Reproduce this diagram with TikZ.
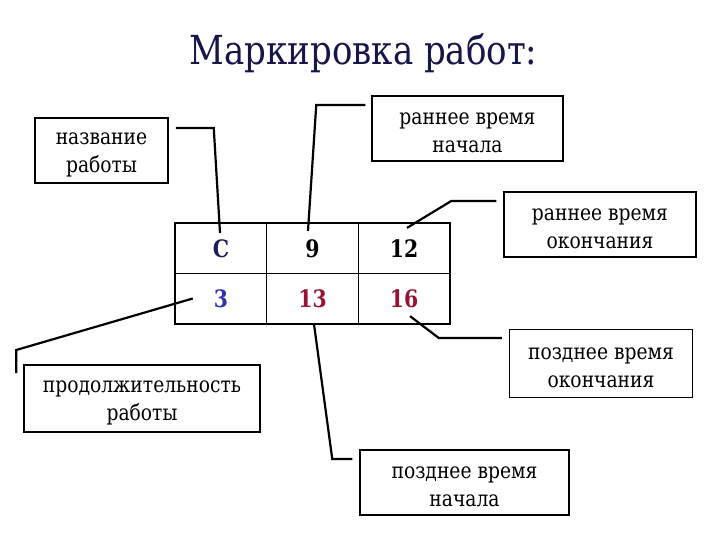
\documentclass[tikz,border=0pt]{standalone}
\usepackage{fontspec}
\setmainfont{DejaVu Serif}[FakeStretch=0.85]
\usetikzlibrary{positioning}

\definecolor{titlecol}{RGB}{22,22,72}
\definecolor{namecol}{RGB}{28,28,90}
\definecolor{durcol}{RGB}{50,50,170}
\definecolor{latecol}{RGB}{150,20,50}

\newcommand{\lift}{\rule{0pt}{21pt}}

\begin{document}
\begin{tikzpicture}[x=1pt, y=-1pt,
    lbl/.style={draw, rectangle, fill=white, line width=1.5pt, inner sep=0pt,
        align=center, font=\fontsize{22}{28}\selectfont},
    cell/.style={draw, rectangle, line width=0.8pt, minimum width=91.7pt,
        minimum height=50.5pt, inner sep=0pt, font=\fontsize{24}{30}\selectfont\bfseries},
    wire/.style={line width=2.2pt}]

\useasboundingbox (0,0) rectangle (720,540);

% Заголовок
\node[anchor=base, text=titlecol, font=\fontsize{40}{50}\selectfont] (title) at (363.5,65) {Маркировка работ:};

% Таблица
\node[cell, text=namecol] (cC) at (221,248.5) {C};
\node[cell] (c9) at (312.5,248.5) {9};
\node[cell] (c12) at (404,248.5) {12};
\node[cell, text=durcol] (c3) at (221,298.5) {3};
\node[cell, text=latecol] (c13) at (312.5,298.5) {13};
\node[cell, text=latecol] (c16) at (404,298.5) {16};
\draw[line width=1.5pt] (cC.north west) rectangle (c16.south east);

% Подписи
\node[lbl, minimum width=133pt, minimum height=65pt] (name) at (101.5,150.5) {\lift название\\работы};
\node[lbl, minimum width=191pt, minimum height=65pt] (es) at (467.5,128.5) {\lift раннее время\\начала};
\node[lbl, minimum width=192pt, minimum height=65pt] (ef) at (600,224.5) {\lift раннее время\\окончания};
\node[lbl, minimum width=183pt, minimum height=68pt] (lf) at (601,363.5) {\lift позднее время\\окончания};
\node[lbl, minimum width=209pt, minimum height=65pt] (ls) at (464.5,482.5) {\lift позднее время\\начала};
\node[lbl, minimum width=236pt, minimum height=67pt] (dur) at (142,398.5) {\lift продолжительность\\работы};

% Выноски
\draw[wire] ([xshift=7pt,yshift=22.5pt]name.east) -- ++(38,0) -- ([shift={(-1pt,-10pt)}]cC.north);
\draw[wire] ([xshift=-6pt,yshift=23.5pt]es.west) -- ++(-49,0) -- ([shift={(-4.5pt,-8pt)}]c9.north);
\draw[wire] ([xshift=-7pt,yshift=23.5pt]ef.west) -- ++(-45,0) -- ([shift={(3pt,-5pt)}]c12.north);
\draw[wire] ([xshift=-7pt,yshift=25.5pt]lf.west) -- ++(-63,0) -- ([shift={(6pt,8pt)}]c16.south);
\draw[wire] ([xshift=-7pt,yshift=23.5pt]ls.west) -- ++(-20,0) -- ([xshift=1.5pt]c13.south);
\draw[wire] ([xshift=-7pt,yshift=25.5pt]dur.west) -- ++(0,-23) -- ([xshift=18pt]c3.west);

\end{tikzpicture}
\end{document}
